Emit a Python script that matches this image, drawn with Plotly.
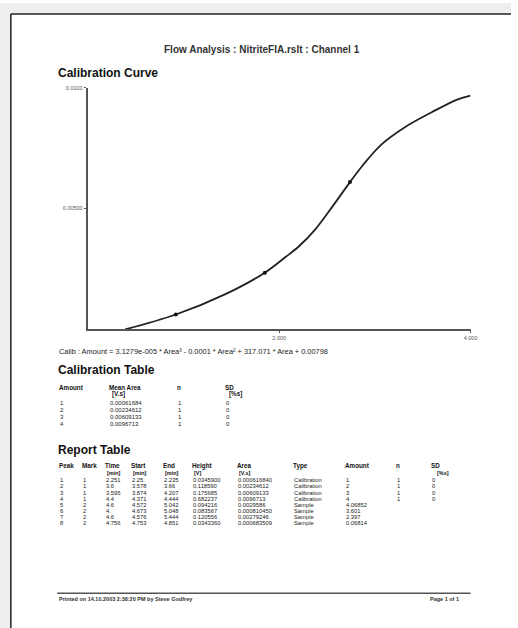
import plotly.graph_objects as go

W, H = 518, 628

# ---------------- data ----------------
curve_x = [0.39, 0.92, 1.45, 1.85, 2.07, 2.21, 2.38, 2.56, 2.74, 2.87, 3.07, 3.31, 3.59, 3.86, 4.0]
curve_y = [0.0, 0.000617, 0.001481, 0.002346, 0.003004, 0.003450, 0.004150, 0.005100,
           0.006091, 0.006770, 0.007654, 0.008354, 0.008971, 0.009506, 0.009671]
cal_x = [0.92, 1.85, 2.74]
cal_y = [0.000617, 0.002346, 0.006091]
x_tickvals = [2.0, 4.0]
x_ticktext = ["2.000", "4.000"]
y_tickvals = [0.005, 0.01]
y_ticktext = ["0.00500", "0.0100"]

title_text = "Flow Analysis : NitriteFIA.rslt : Channel 1"
equation_text = "Calib : Amount = 3.1279e-005 * Area³ - 0.0001 * Area² + 317.071 * Area + 0.00798"

cal_headers = ["Amount", "Mean Area", "n", "SD"]
cal_units = ["", "[V.s]", "", "[%s]"]
cal_amount = ["1", "2", "3", "4"]
cal_area = ["0.00061684", "0.00234612", "0.00609133", "0.0096713"]
cal_n = ["1", "1", "1", "1"]
cal_sd = ["0", "0", "0", "0"]

rep_headers = ["Peak", "Mark", "Time", "Start", "End", "Height", "Area", "Type", "Amount", "n", "SD"]
rep_units = ["", "", "[min]", "[min]", "[min]", "[V]", "[V.s]", "", "", "", "[%s]"]
rep_peak = ["1", "2", "3", "4", "5", "6", "7", "8"]
rep_mark = ["1", "1", "1", "1", "2", "2", "2", "2"]
rep_time = ["2.251", "3.6", "3.595", "4.4", "4.6", "4.", "4.6", "4.756"]
rep_start = ["2.25", "3.578", "3.874", "4.371", "4.572", "4.673", "4.576", "4.753"]
rep_end = ["2.235", "3.66", "4.207", "4.444", "5.042", "5.048", "5.444", "4.851"]
rep_height = ["0.0345900", "0.118590", "0.175685", "0.682237", "0.094216", "0.083567", "0.120556", "0.0343360"]
rep_area = ["0.000616840", "0.00234612", "0.00609133", "0.0096713", "0.0029586", "0.000810450", "0.00279246", "0.000683509"]
rep_type = ["Calibration", "Calibration", "Calibration", "Calibration", "Sample", "Sample", "Sample", "Sample"]
rep_amount = ["1", "2", "3", "4", "4.06852", "3.601", "2.397", "0.06814"]
rep_n = ["1", "1", "1", "1", "", "", "", ""]
rep_sd = ["0", "0", "0", "0", "", "", "", ""]

footer_left = "Printed on 14.10.2003 2:38:20 PM by Steve Godfrey"
footer_right = "Page 1 of 1"

# ---------------- helpers ----------------
FONT = "Liberation Sans, Arial, sans-serif"


def px(x):
    return x / W


def py(y):
    return 1 - y / H


annotations = []


def txt(x, y, s, size=6, bold=False, anchor="left", color="#111"):
    annotations.append(dict(
        x=px(x), y=py(y), xref="paper", yref="paper", text=("<b>%s</b>" % s) if bold else s,
        showarrow=False, xanchor=anchor, yanchor="middle",
        font=dict(family=FONT, size=size, color=color)))


# ---------------- figure ----------------
fig = go.Figure()
fig.add_trace(go.Scatter(x=curve_x, y=curve_y, mode="lines",
                         line=dict(color="#222", width=1.8, shape="spline", smoothing=1.0),
                         hoverinfo="skip", showlegend=False))
fig.add_trace(go.Scatter(x=cal_x, y=cal_y, mode="markers",
                         marker=dict(color="#111", size=4), showlegend=False))

ax_left, ax_right, ax_top, ax_bottom = 89, 477, 85, 328

fig.update_layout(
    width=W, height=H, margin=dict(l=0, r=0, t=0, b=0),
    paper_bgcolor="white", plot_bgcolor="white",
    xaxis=dict(domain=[px(ax_left), px(ax_right)], range=[0, 4.0], showgrid=False, zeroline=False,
               showline=True, linecolor="#555", linewidth=2, ticks="outside", ticklen=2,
               tickcolor="#555", tickvals=x_tickvals, ticktext=x_ticktext,
               tickfont=dict(family=FONT, size=5.5, color="#555")),
    yaxis=dict(domain=[py(ax_bottom), py(ax_top)], range=[0, 0.01], showgrid=False, zeroline=False,
               showline=True, linecolor="#555", linewidth=2, ticks="outside", ticklen=2,
               tickcolor="#555", tickvals=y_tickvals, ticktext=y_ticktext,
               tickfont=dict(family=FONT, size=5.5, color="#555")),
)

# page frame
shapes = [
    dict(type="rect", xref="paper", yref="paper", x0=0, x1=1, y0=py(11), y1=1,
         fillcolor="#eeeeee", line=dict(width=0), layer="below"),
    dict(type="rect", xref="paper", yref="paper", x0=0, x1=px(11), y0=0, y1=1,
         fillcolor="#eeeeee", line=dict(width=0), layer="below"),
    dict(type="line", xref="paper", yref="paper", x0=px(11), x1=1, y0=py(11), y1=py(11),
         line=dict(color="#222", width=1.5)),
    dict(type="line", xref="paper", yref="paper", x0=px(11), x1=px(11), y0=0, y1=py(11),
         line=dict(color="#222", width=1.5)),
    dict(type="line", xref="paper", yref="paper", x0=px(58), x1=px(477), y0=py(593), y1=py(593),
         line=dict(color="#555", width=1.5)),
]

# title and equation
txt(266, 47, title_text, size=10, bold=True, anchor="center", color="#333")
txt(57, 70, "Calibration Curve", size=12, bold=True)
txt(58, 350, equation_text, size=7.4, color="#222")

# calibration table
txt(57, 369, "Calibration Table", size=12, bold=True)
cal_cols = [58, 108, 177, 226]
for cx, h, u in zip(cal_cols, cal_headers, cal_units):
    txt(cx, 386, h, size=6.3, bold=True)
    if u:
        txt(cx + 4, 393, u, size=6.3, bold=True)
cal_rows_y = [402, 409, 416, 423]
for i, ry in enumerate(cal_rows_y):
    for cx, col in zip(cal_cols, [cal_amount, cal_area, cal_n, cal_sd]):
        txt(cx + 1, ry, col[i], size=6, color="#222")

# report table
txt(57, 449, "Report Table", size=12, bold=True)
rep_cols = [58, 81, 104, 131, 163, 193, 238, 295, 348, 399, 435]
for cx, h, u in zip(rep_cols, rep_headers, rep_units):
    txt(cx, 465, h, size=6.3, bold=True)
    if u:
        txt(cx + (6 if h == "SD" else 2), 472, u, size=5.5, bold=True)
rep_cols_data = [rep_peak, rep_mark, rep_time, rep_start, rep_end, rep_height,
                 rep_area, rep_type, rep_amount, rep_n, rep_sd]
for i in range(len(rep_peak)):
    ry = 479.5 + i * 6.2
    for cx, col in zip(rep_cols, rep_cols_data):
        txt(cx + 1, ry, col[i], size=5.8, color="#222")

# footer
txt(58, 599, footer_left, size=5.5, bold=True, color="#333")
txt(467, 599, footer_right, size=5.5, bold=True, anchor="right", color="#333")

fig.update_layout(annotations=annotations, shapes=shapes)
fig.write_html("out.html", config={"displayModeBar": False},
               post_script="document.body.style.margin='0';document.body.style.overflow='hidden';")
